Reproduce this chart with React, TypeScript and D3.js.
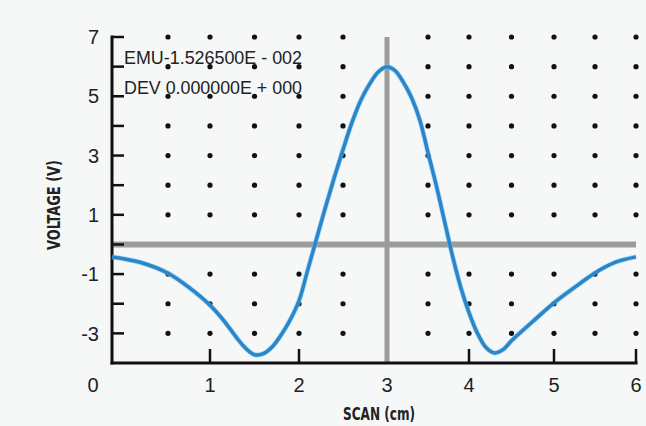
import React from "react";
import * as d3 from "d3";

const scanX = [0, 0.25, 0.5, 0.75, 1, 1.15, 1.3, 1.4, 1.5, 1.6, 1.7, 1.8, 1.9, 2, 2.1, 2.2, 2.3, 2.4, 2.5, 2.6, 2.7, 2.8, 2.9, 3, 3.1, 3.2, 3.3, 3.4, 3.5, 3.6, 3.7, 3.8, 3.9, 4, 4.1, 4.2, 4.3, 4.4, 4.5, 4.75, 5, 5.25, 5.5, 5.75, 6];
const voltage = [-0.42, -0.6, -0.97, -1.45, -2.05, -2.55, -3.15, -3.5, -3.72, -3.68, -3.45, -3.05, -2.55, -1.9, -0.85, 0.2, 1.25, 2.25, 3.2, 4.1, 4.85, 5.4, 5.82, 6.0, 5.86, 5.47, 4.95, 4.2, 3.1, 2.0, 0.8, -0.4, -1.45, -2.3, -3.0, -3.48, -3.66, -3.55, -3.25, -2.6, -1.97, -1.45, -0.96, -0.6, -0.42];
const xBreaks = [0, 0.5, 1, 2, 3, 4, 5, 6];
const xTickLabels = [0, 1, 2, 3, 4, 5, 6];
const xTickMarks = [1, 2, 4, 5, 6];
const yTickLabels = [7, 5, 3, 1, -1, -3];
const yTickMarks = [-3, -2, -1, 0, 1, 2, 3, 4, 5, 6, 7];
const dotXs = [0.5, 1, 1.5, 2, 2.5, 3.5, 4, 4.5, 5, 5.5, 6];
const dotYs = [7, 6, 5, 4, 3, 2, 1, -1, -2, -3];
const annotations = ["EMU-1.526500E - 002", "DEV 0.000000E + 000"];

export default function App() {
  const W = 646, H = 426;
  // photographed chart: slightly non-uniform horizontal spacing
  const x = d3.scaleLinear().domain(xBreaks).range([112, 168, 210, 299, 387, 469, 554, 636]);
  const y = d3.scaleLinear().domain([-4, 7]).range([363, 37]);
  const line = d3
    .line<number>()
    .x((_, i) => x(scanX[i]))
    .y((d) => y(d))
    .curve(d3.curveCatmullRom.alpha(0.5));
  const condensed = "'Liberation Sans Narrow', 'DejaVu Sans Condensed', sans-serif";
  const sans = "'Liberation Sans', Arial, sans-serif";
  return (
    <svg width={W} height={H} style={{ position: "absolute", left: 0, top: 0 }}>
      <rect x={0} y={0} width={W} height={H} fill="#f6f7f7" />
      {dotXs.map((dx) =>
        dotYs.map((dy) => (
          <circle key={dx + "_" + dy} cx={x(dx)} cy={y(dy)} r={2.6} fill="#111" />
        ))
      )}
      <line x1={x(0)} x2={x(6)} y1={y(0)} y2={y(0)} stroke="#9c9c9c" strokeWidth={6} />
      <line x1={x(3)} x2={x(3)} y1={y(7)} y2={y(-4)} stroke="#9c9c9c" strokeWidth={5} />
      <line x1={x(0)} x2={x(0)} y1={y(7) - 1.5} y2={y(-4) + 1.5} stroke="#111" strokeWidth={3} />
      <line x1={x(0) - 1.5} x2={x(6) + 1.5} y1={y(-4)} y2={y(-4)} stroke="#111" strokeWidth={3} />
      {yTickMarks.map((t) => (
        <line key={"yt" + t} x1={x(0)} x2={x(0) + 12} y1={y(t)} y2={y(t)} stroke="#111" strokeWidth={2.5} />
      ))}
      {xTickMarks.map((t) => (
        <line key={"xt" + t} x1={x(t)} x2={x(t)} y1={y(-4)} y2={y(-4) - 14} stroke="#111" strokeWidth={2.5} />
      ))}
      {yTickLabels.map((t) => (
        <text key={"yl" + t} x={99} y={y(t)} dy="0.36em" textAnchor="end" fontFamily={sans} fontSize={20} fill="#222">
          {t}
        </text>
      ))}
      {xTickLabels.map((t) => (
        <text key={"xl" + t} x={t === 0 ? 93 : x(t)} y={392} textAnchor="middle" fontFamily={sans} fontSize={20} fill="#222">
          {t}
        </text>
      ))}
      <path d={line(voltage) || ""} fill="none" stroke="#6cc0f0" strokeWidth={5} strokeOpacity={0.6} />
      <path d={line(voltage) || ""} fill="none" stroke="#2a86c8" strokeWidth={3.5} />
      {annotations.map((s, i) => (
        <text key={s} x={124} y={64 + i * 30} fontFamily={sans} fontSize={18} fill="#222" textLength={178} lengthAdjust="spacingAndGlyphs">
          {s}
        </text>
      ))}
      <text x={379} y={420} textAnchor="middle" fontFamily={condensed} fontWeight="bold" fontSize={18} fill="#222" textLength={72} lengthAdjust="spacingAndGlyphs">
        SCAN (cm)
      </text>
      <text transform="translate(60,205) rotate(-90)" textAnchor="middle" fontFamily={condensed} fontWeight="bold" fontSize={18} fill="#222" textLength={90} lengthAdjust="spacingAndGlyphs">
        VOLTAGE (V)
      </text>
    </svg>
  );
}
